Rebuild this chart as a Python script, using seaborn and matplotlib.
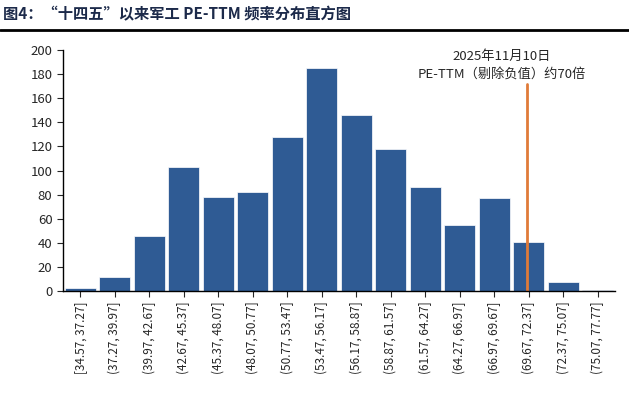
import matplotlib
matplotlib.use("Agg")
import matplotlib.pyplot as plt
import seaborn as sns
import pandas as pd

bins = ["[34.57, 37.27]", "(37.27, 39.97]", "(39.97, 42.67]", "(42.67, 45.37]",
        "(45.37, 48.07]", "(48.07, 50.77]", "(50.77, 53.47]", "(53.47, 56.17]",
        "(56.17, 58.87]", "(58.87, 61.57]", "(61.57, 64.27]", "(64.27, 66.97]",
        "(66.97, 69.67]", "(69.67, 72.37]", "(72.37, 75.07]", "(75.07, 77.77]"]
counts = [3, 12, 46, 103, 78, 82, 128, 185, 146, 118, 86, 55, 77, 41, 8, 1]
current_pos = 12.95  # ~70x, drawn in category units

sns.set_style("white")
plt.rcParams['font.family'] = ['Noto Sans CJK SC', 'DejaVu Sans']

df = pd.DataFrame({"bin": bins, "count": counts})
fig = plt.figure(figsize=(6.29, 4.0), dpi=100)
ax = fig.add_axes([0.1, 0.272, 0.878, 0.603])
sns.barplot(data=df, x="bin", y="count", color="#2f5b94", saturation=1,
            width=0.9, edgecolor="white", linewidth=0.5, ax=ax)
ax.axvline(current_pos, ymax=0.86, color="#e07b39", lw=2)
ax.set_ylim(0, 200)
ax.set_yticks(range(0, 201, 20))
ax.set_xlim(-0.5, 15.5)
ax.set_xlabel("")
ax.set_ylabel("")
ax.tick_params(axis="x", rotation=90, labelsize=8.5, length=4, direction="out", bottom=True)
ax.tick_params(axis="y", labelsize=9.5, length=4, direction="out", left=True)
sns.despine(ax=ax)
for s in ["left", "bottom"]:
    ax.spines[s].set_color("black")
    ax.spines[s].set_linewidth(1)
ax.text(12.2, 175, "2025年11月10日\nPE-TTM（剔除负值）约70倍", ha="center", va="bottom",
        fontsize=9.5, linespacing=1.4)

fig.text(0.005, 0.965, "图4：“十四五”以来军工 PE-TTM 频率分布直方图", fontsize=11,
         fontweight="bold", color="#1c2a4a", va="center")
fig.add_artist(plt.Line2D([0, 1], [0.925, 0.925], color="black", lw=2))
fig.savefig("out.png", dpi=100)
